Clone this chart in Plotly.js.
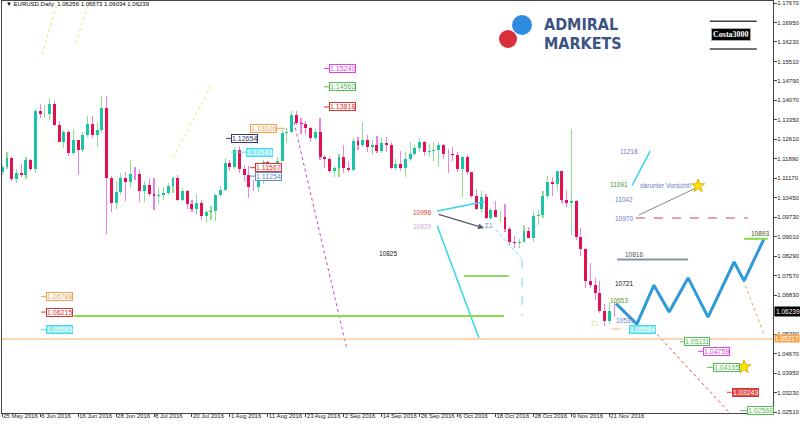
<!DOCTYPE html>
<html><head><meta charset="utf-8">
<script src="https://cdn.plot.ly/plotly-3.0.1.min.js"></script>
<style>html,body{margin:0;padding:0;background:#fff}#chart{width:800px;height:426px}</style>
</head><body><div id="chart"></div>
<script>
// ---------- DATA ----------
const open  = [1.1142,1.1159,1.1192,1.1114,1.1137,1.1131,1.1185,1.1152,1.1365,1.1355,1.1357,1.1394,1.1316,1.1252,1.1289,1.1210,1.1258,1.1222,1.1278,1.1317,1.1276,1.1295,1.1376,
1.1118,1.1025,1.1066,1.1120,1.1105,1.1135,1.1134,1.1072,1.1093,1.1059,1.1051,1.1056,1.1063,1.1090,1.1117,1.1037,1.1072,1.1021,1.1004,1.1025,1.0976,1.0993,1.0997,1.1056,1.1073,
1.1173,1.1159,1.1224,1.1150,1.1128,1.1086,1.1085,1.1111,1.1178,1.1137,1.1161,1.1182,1.1287,1.1288,1.1351,1.1324,1.1318,1.1305,1.1266,1.1288,1.1198,1.1187,1.1146,
1.1156,1.1196,1.1155,1.1149,1.1257,1.1239,1.1261,1.1232,1.1239,1.1217,1.1247,1.1241,1.1155,1.1171,1.1154,1.1188,1.1209,1.1228,1.1252,1.1214,1.1217,1.1222,
1.1240,1.1209,1.1208,1.1205,1.1153,1.1198,1.1142,1.1053,1.1005,1.1048,1.0971,1.1000,1.0973,1.0975,1.0929,1.0883,1.0879,1.0881,1.0923,1.0895,1.0977,
1.0981,1.1053,1.1103,1.1095,1.1144,1.1038,1.1025,1.1033,1.0899,1.0856,1.0735,1.0722,1.0693,1.0626,1.0589,1.06256];
const high  = [1.1168,1.1216,1.1195,1.1152,1.1169,1.1196,1.1187,1.1374,1.1394,1.1388,1.1416,1.1405,1.1330,1.1298,1.1298,1.1299,1.1261,1.1290,1.1347,1.1350,1.1325,1.1424,1.1424,
1.1126,1.1109,1.1138,1.1140,1.1185,1.1160,1.1147,1.1108,1.1120,1.1120,1.1082,1.1086,1.1100,1.1121,1.1130,1.1083,1.1074,1.1038,1.1059,1.1036,1.1001,1.1016,1.1060,1.1088,1.1194,
1.1185,1.1234,1.1236,1.1167,1.1163,1.1110,1.1130,1.1185,1.1180,1.1168,1.1196,1.1298,1.1304,1.1367,1.1366,1.1340,1.1330,1.1309,1.1300,1.1342,1.1204,1.1197,1.1163,
1.1206,1.1240,1.1180,1.1265,1.1270,1.1326,1.1279,1.1258,1.1274,1.1266,1.1270,1.1251,1.1188,1.1220,1.1213,1.1252,1.1240,1.1267,1.1256,1.1243,1.1250,1.1251,
1.1243,1.1225,1.1232,1.1213,1.1200,1.1202,1.1142,1.1076,1.1071,1.1060,1.1008,1.1033,1.0997,1.1023,1.0938,1.0905,1.0891,1.0943,1.0938,1.0995,
1.0999,1.1069,1.1124,1.1123,1.1143,1.1145,1.1074,1.1300,1.1036,1.0933,1.0860,1.0804,1.0749,1.0737,1.0650,1.0655,1.06573];
const low   = [1.1131,1.1150,1.1107,1.1099,1.1121,1.1116,1.1143,1.1137,1.1339,1.1341,1.1333,1.1310,1.1251,1.1228,1.1199,1.1204,1.1131,1.1216,1.1272,1.1265,1.1233,1.1285,1.0912,
1.0993,1.1005,1.1055,1.1033,1.1082,1.1111,1.1030,1.1028,1.1053,1.1000,1.1023,1.1037,1.1057,1.1061,1.1032,1.1033,1.1005,1.0992,1.0985,1.0963,1.0952,1.0963,1.0960,1.1048,1.1070,
1.1143,1.1151,1.1137,1.1106,1.1044,1.1070,1.1067,1.1098,1.1122,1.1128,1.1144,1.1180,1.1247,1.1284,1.1316,1.1282,1.1280,1.1250,1.1260,1.1185,1.1155,1.1138,1.1123,
1.1123,1.1137,1.1140,1.1145,1.1222,1.1232,1.1214,1.1202,1.1211,1.1210,1.1214,1.1150,1.1149,1.1143,1.1121,1.1180,1.1199,1.1213,1.1200,1.1198,1.1180,1.1160,
1.1190,1.1138,1.1183,1.1142,1.1047,1.1131,1.1046,1.1000,1.0990,1.0967,1.0962,1.0985,1.0957,1.0920,1.0866,1.0860,1.0860,1.0880,1.0896,1.0883,
1.0945,1.0970,1.1043,1.1051,1.1069,1.1026,1.1010,1.0907,1.0889,1.0829,1.0709,1.0711,1.0666,1.0619,1.0570,1.0579,1.06034];
const close = [1.1159,1.1192,1.1114,1.1137,1.1131,1.1185,1.1152,1.1365,1.1355,1.1357,1.1394,1.1316,1.1252,1.1289,1.1210,1.1258,1.1222,1.1278,1.1317,1.1276,1.1295,1.1376,1.1118,
1.1025,1.1066,1.1120,1.1105,1.1135,1.1134,1.1072,1.1093,1.1059,1.1051,1.1056,1.1063,1.1090,1.1117,1.1037,1.1072,1.1021,1.1004,1.1025,1.0976,1.0993,1.0997,1.1056,1.1073,1.1173,
1.1159,1.1224,1.1150,1.1128,1.1086,1.1085,1.1111,1.1178,1.1137,1.1161,1.1182,1.1287,1.1288,1.1351,1.1324,1.1318,1.1305,1.1266,1.1288,1.1198,1.1187,1.1146,1.1156,
1.1196,1.1155,1.1149,1.1257,1.1239,1.1261,1.1232,1.1239,1.1217,1.1247,1.1241,1.1155,1.1171,1.1154,1.1188,1.1209,1.1228,1.1252,1.1214,1.1217,1.1222,1.1240,
1.1209,1.1208,1.1205,1.1153,1.1198,1.1142,1.1053,1.1005,1.1048,1.0971,1.1000,1.0973,1.0975,1.0929,1.0883,1.0879,1.0881,1.0923,1.0895,1.0977,1.0981,
1.1053,1.1103,1.1095,1.1144,1.1038,1.1025,1.1033,1.0899,1.0856,1.0735,1.0722,1.0693,1.0626,1.0589,1.0627,1.06239];

const yTickText = ["1.17670","1.16950","1.16230","1.15510","1.14790","1.14070","1.13350","1.12610","1.11890","1.11170","1.10450",
"1.09730","1.09010","1.08290","1.07570","1.06830","","1.05390","1.04670","1.03950","1.03230","1.02510"];
const yTop = 1.17670, yBottom = 1.02510;

// price label objects (value, colour, filled)
const labelValues = [1.15240,1.14562,1.13818,1.13026,1.12654,1.12143,1.11567,1.11254,1.06788,1.06215,1.05565,1.05584,1.05111,1.04759,1.04165,1.03243,1.02560];
const labelColors = ['#dd44dd','#55bb55','#dd3333','#f0a050','#34346e','#44ddee','#dd3333','#6688cc','#f0a050','#dd3333','#44ddee','#44ddee','#55bb55','#dd44dd','#55bb55','#dd3333','#55bb55'];
const labelFilled = [0,0,0,0,0,1,0,0,0,0,1,1,0,0,0,1,0];
// bar-index anchors: box left, stub start, stub end
const labelBoxX   = [68.9,68.9,68.9,52.2,48.2,51.4,53.3,53.3,9.2,9.2,9.2,132.1,143.7,147.7,149.8,153.8,157.0];
const labelStubX0 = [67.8,67.8,67.8,57.5,47.2,48.2,52.2,52.2,8.2,8.2,8.2,128.5,142.9,146.7,148.6,152.8,155.5];
const labelStubX1 = [68.9,68.9,68.9,59.6,48.2,51.4,53.3,53.3,9.2,9.2,9.2,132.0,143.7,147.7,149.8,153.8,157.0];

// projection zigzag
const zigX = [129.4,133.8,137.4,140.6,144.6,148.8,154.3,156.4,160.6];
const zigY = [1.0653,1.0577,1.0721,1.0622,1.0748,1.0603,1.0807,1.0737,1.0893];

// horizontal levels
const levelVals = [1.0607,1.0755,1.0970,1.0816,1.0893,1.05217];
// trend lines [[x0,x1],[y0,y1]]
const trendMagenta = [[61.5,72.7],[1.1326,1.0481]];
const trendRed     = [[137.2,153.2],[1.0555,1.0251]];
const trendOrange  = [[156.2,160.6],[1.0740,1.0540]];
const trendCyanA   = [[132.8,136.6],[1.1091,1.1218]];
const trendCyanB   = [[91.7,101.6],[1.0996,1.1030]];
const trendCyanC   = [[91.7,100.5],[1.0941,1.0525]];
const trendCyanDot1 = [[104.0,109.8],[1.0926,1.0815]];
const trendCyanDot2 = [[109.6,109.6],[1.0815,1.0607]];
const trendGrayArrow = [[91.7,101.6],[1.0985,1.0933]];
const trendGray    = [[134.2,146.7],[1.0981,1.1085]];
const trendYellow1 = [[8.4,11.8],[1.1576,1.1779]];
const trendYellow2 = [[15.5,18.5],[1.1620,1.1779]];
const trendYellow3 = [[36.0,44.0],[1.1193,1.1459]];

// trading days (categories)
function tradingDays(start, n){
  const m=['Jan','Feb','Mar','Apr','May','Jun','Jul','Aug','Sep','Oct','Nov','Dec'];
  const out=[]; const d=new Date(start.getTime());
  while(out.length<n){ const w=d.getDay(); if(w!==0&&w!==6) out.push(d.getDate()+' '+m[d.getMonth()]+' '+d.getFullYear()); d.setDate(d.getDate()+1);}
  return out;
}
const dates = tradingDays(new Date(2016,4,25), close.length);
const idx = dates.map((d,i)=>i);

// ---------- BUILD ----------
const bull = idx.filter(i=>close[i]>=open[i]);
const bear = idx.filter(i=>close[i]<open[i]);
const minBody = 0.00008;
const traces = [];
traces.push({type:'bar',x:bull,base:bull.map(i=>low[i]),y:bull.map(i=>high[i]-low[i]),width:0.24,marker:{color:'#8fe08a',line:{width:0}},hoverinfo:'skip'});
traces.push({type:'bar',x:bear,base:bear.map(i=>low[i]),y:bear.map(i=>high[i]-low[i]),width:0.24,marker:{color:'#ea80ea',line:{width:0}},hoverinfo:'skip'});
traces.push({type:'bar',x:bull,base:bull.map(i=>open[i]),y:bull.map(i=>Math.max(close[i]-open[i],minBody)),width:0.62,marker:{color:'#1cc3a8',line:{width:0}},hoverinfo:'skip'});
traces.push({type:'bar',x:bear,base:bear.map(i=>close[i]),y:bear.map(i=>Math.max(open[i]-close[i],minBody)),width:0.62,marker:{color:'#e3124f',line:{width:0}},hoverinfo:'skip'});

function line(t,color,width,dash){ return {type:'scatter',mode:'lines',x:t[0],y:t[1],line:{color:color,width:width,dash:dash||'solid'},hoverinfo:'skip',cliponaxis:false}; }
traces.push(line(trendYellow1,'#eee070',1,'dot'));
traces.push(line(trendYellow2,'#eee070',1,'dot'));
traces.push(line(trendYellow3,'#eee070',1,'dot'));
traces.push(line(trendMagenta,'#cc44cc',1,'dot'));
traces.push(line(trendRed,'#e05050',1,'dot'));
traces.push(line(trendOrange,'#f0a050',1,'dot'));
traces.push(line(trendCyanDot1,'#66ddee',1,'dot'));
traces.push(line(trendCyanDot2,'#66ddee',1,'dash'));
traces.push(line(trendCyanA,'#33d6ee',1.5));
traces.push(line(trendCyanB,'#33d6ee',1.5));
traces.push(line(trendCyanC,'#33d6ee',1.5));
traces.push(line(trendGray,'#888888',1));
traces.push({type:'scatter',mode:'lines',x:zigX,y:zigY,line:{color:'#2f9ad8',width:3},hoverinfo:'skip'});
// stars
traces.push({type:'scatter',mode:'markers',x:[146.7,156.4],y:[1.1089,1.0418],marker:{symbol:'star',size:10,color:'#ffe600',line:{color:'#e0b000',width:1}},hoverinfo:'skip'});

const shapes = [];
const annotations = [];
const F = 'Liberation Sans, Arial, sans-serif';
// horizontal levels
const levelX = [[15.1,105.8],[97.3,106.8],[133.6,157.2],[129.6,144.6],[156.4,161.4],[-5,170]];
const levelStyle = [['#88dd44',2,'solid'],['#66cc33',1.5,'solid'],['#e04040',1,'dash'],['#8494a4',2,'solid'],['#88dd44',2,'solid'],['#f8c89a',1.5,'solid']];
levelVals.forEach((v,k)=>{
  shapes.push({type:'line',xref:'x',yref:'y',x0:levelX[k][0],x1:levelX[k][1],y0:v,y1:v,line:{color:levelStyle[k][0],width:levelStyle[k][1],dash:levelStyle[k][2]}});
});
// gray arrow
annotations.push({xref:'x',yref:'y',axref:'x',ayref:'y',x:trendGrayArrow[0][1],y:trendGrayArrow[1][1],ax:trendGrayArrow[0][0],ay:trendGrayArrow[1][0],text:'',showarrow:true,arrowhead:2,arrowsize:1,arrowwidth:1.2,arrowcolor:'#555a70'});

// price label boxes
labelValues.forEach((v,k)=>{
  const c=labelColors[k];
  const dashed = (k===11);
  shapes.push({type:'line',xref:'x',yref:'y',x0:labelStubX0[k],x1:labelStubX1[k],y0:v,y1:v,line:{color:dashed?'#f0c060':c,width:1,dash:dashed?'dash':'solid'}});
  annotations.push({xref:'x',yref:'y',x:labelBoxX[k],y:v,xanchor:'left',yanchor:'middle',text:v.toFixed(5),showarrow:false,
    font:{family:F,size:7,color:labelFilled[k]?'#ffffff':c},
    bgcolor:labelFilled[k]?(c==='#dd3333'?'#e04848':'#8ee8f2'):'rgba(255,255,255,0.95)',bordercolor:c,borderwidth:1,borderpad:0});
});

// text notes
const noteText = ['10996','10929','10825','11218','11091','darunter Vorsicht!','11042','10970','10816','10721','10653','10539','10893','\u03A31','\u03A31'];
const noteX    = [86.2,86.2,79.0,129.8,127.7,134.0,128.8,128.8,130.9,128.8,127.7,129.0,157.4,101.3,123.8];
const noteY    = [1.0992,1.0937,1.0838,1.1215,1.1093,1.1089,1.1037,1.0970,1.0834,1.0729,1.0666,1.0592,1.0911,1.0941,1.0578];
const noteCol  = ['#e03535','#d8a2d8','#222222','#6a7acc','#3a9a3a','#6a7acc','#6a7acc','#6a7acc','#555555','#111111','#669922','#6a7acc','#445522','#6a7acc','#c8dd88'];
noteText.forEach((t,k)=>annotations.push({xref:'x',yref:'y',x:noteX[k],y:noteY[k],xanchor:'left',yanchor:'middle',text:t,showarrow:false,
  font:{family:F,size:6.5,color:noteCol[k]}}));

// header
annotations.push({xref:'paper',yref:'paper',x:0.002,y:0.992,xanchor:'left',yanchor:'middle',showarrow:false,
  text:'\u25BC EURUSD,Daily  1.06256 1.06573 1.06034 1.06239',font:{family:F,size:6,color:'#000'}});
// current price + orange level on the axis
annotations.push({xref:'paper',yref:'y',x:1,xshift:1,y:close[close.length-1],xanchor:'left',yanchor:'middle',showarrow:false,text:close[close.length-1].toFixed(5),
  bgcolor:'#000000',font:{family:F,size:6.5,color:'#ffffff'},borderpad:1});
annotations.push({xref:'paper',yref:'y',x:1,xshift:1,y:levelVals[5],xanchor:'left',yanchor:'middle',showarrow:false,text:levelVals[5].toFixed(5),
  bgcolor:'#f7a24a',font:{family:F,size:6.5,color:'#ffffff'},borderpad:0});

// logo
shapes.push({type:'circle',xref:'paper',yref:'paper',x0:0.6615,x1:0.6874,y0:0.9175,y1:0.966,fillcolor:'#2d8ce0',line:{width:0}});
shapes.push({type:'circle',xref:'paper',yref:'paper',x0:0.6446,x1:0.668,y0:0.886,y1:0.9296,fillcolor:'#d7303a',line:{width:0}});
const LF = 'DejaVu Sans Condensed, Liberation Sans Narrow, Liberation Sans, sans-serif';
annotations.push({xref:'paper',yref:'paper',x:0.7017,y:0.9429,xanchor:'left',yanchor:'middle',borderpad:0,showarrow:false,text:'<b>ADMIRAL</b>',font:{family:LF,size:16,color:'#3c5384'}});
annotations.push({xref:'paper',yref:'paper',x:0.7017,y:0.8968,xanchor:'left',yanchor:'middle',borderpad:0,showarrow:false,text:'<b>MARKETS</b>',font:{family:LF,size:16,color:'#3c5384'}});
// Costa3000
shapes.push({type:'line',xref:'paper',yref:'paper',x0:0.918,x1:0.979,y0:0.951,y1:0.951,line:{color:'#444',width:1.5}});
shapes.push({type:'line',xref:'paper',yref:'paper',x0:0.918,x1:0.979,y0:0.8835,y1:0.8835,line:{color:'#444',width:1.5}});
annotations.push({xref:'paper',yref:'paper',x:0.946,y:0.9175,xanchor:'center',yanchor:'middle',showarrow:false,text:'<b>Costa3000</b>',
  font:{family:'Liberation Serif, serif',size:8,color:'#fff'},bgcolor:'#000',bordercolor:'#aaa',borderwidth:1,borderpad:1});

const tickIdx = idx.filter(i=>i%8===0);
const yTickVals = yTickText.map((t,k)=>yTop-(yTop-yBottom)*k/(yTickText.length-1));
const layout = {
  width:800,height:426,margin:{l:2,r:27,t:1,b:13},paper_bgcolor:'#fff',plot_bgcolor:'#fff',showlegend:false,barmode:'overlay',bargap:0,
  xaxis:{type:'linear',range:[-0.05,162.5],tickvals:tickIdx,ticktext:tickIdx.map(i=>dates[i]),ticklabelposition:'outside right',ticklabelstandoff:-3,tickangle:0,
    showgrid:false,zeroline:false,showline:true,mirror:true,linecolor:'#444',linewidth:1,ticks:'outside',ticklen:3,tickcolor:'#444',
    tickfont:{family:F,size:6,color:'#222'},automargin:false,fixedrange:true},
  yaxis:{side:'right',range:[1.02474,1.17744],tickvals:yTickVals,ticktext:yTickText,ticklabelstandoff:-1,showgrid:false,zeroline:false,showline:true,mirror:true,
    linecolor:'#444',linewidth:1,ticks:'outside',ticklen:3,tickcolor:'#444',tickfont:{family:F,size:6,color:'#222'},automargin:false,fixedrange:true},
  shapes:shapes,annotations:annotations
};
Plotly.newPlot('chart',traces,layout,{staticPlot:true,displayModeBar:false});
</script></body></html>
